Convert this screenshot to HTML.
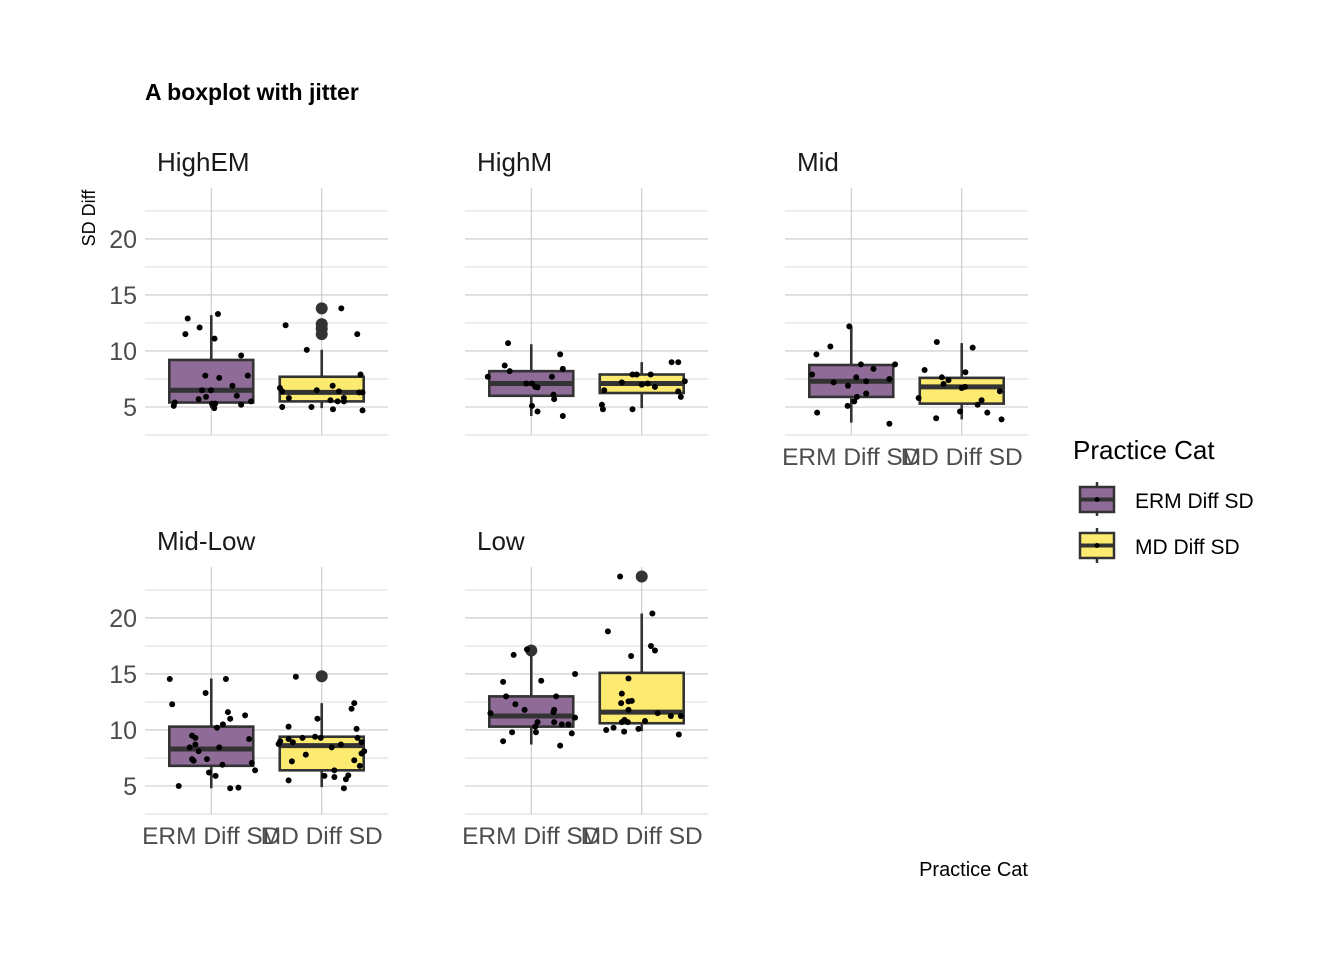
<!DOCTYPE html>
<html><head><meta charset="utf-8">
<style>
body{margin:0;background:#fff;}
svg{display:block;font-family:"Liberation Sans Narrow","Liberation Sans",sans-serif;}
</style></head>
<body>
<svg id="chart" width="1344" height="960" viewBox="0 0 1344 960">
<text x="145" y="100" font-size="23" font-weight="bold" fill="#000">A boxplot with jitter</text>
<text transform="translate(95,218) rotate(-90)" text-anchor="middle" font-size="18" fill="#000">SD Diff</text>
<text x="1028" y="876" text-anchor="end" font-size="20" fill="#000">Practice Cat</text>
<g id="panels"></g>
<g>
<text x="1073" y="459" font-size="26" fill="#000">Practice Cat</text>
<g>
<line x1="1097" y1="482" x2="1097" y2="516" stroke="#333" stroke-width="2.5"/>
<rect x="1080" y="487" width="34" height="25" fill="#8f6b97" stroke="#333" stroke-width="2.5"/>
<line x1="1080" y1="499.5" x2="1114" y2="499.5" stroke="#333" stroke-width="4"/>
<circle cx="1097" cy="499.5" r="2.5" fill="#000"/>
<text x="1135" y="508" font-size="21" fill="#000">ERM Diff SD</text>
</g>
<g>
<line x1="1097" y1="528" x2="1097" y2="563" stroke="#333" stroke-width="2.5"/>
<rect x="1080" y="533" width="34" height="25" fill="#fdea70" stroke="#333" stroke-width="2.5"/>
<line x1="1080" y1="545.5" x2="1114" y2="545.5" stroke="#333" stroke-width="4"/>
<circle cx="1097" cy="545.5" r="2.5" fill="#000"/>
<text x="1135" y="554" font-size="21" fill="#000">MD Diff SD</text>
</g>
</g>
</svg>
<script>
const panelNames = ["HighEM","HighM","Mid","Mid-Low","Low"];
const categories = ["ERM Diff SD","MD Diff SD"];
const yTicks = [5,10,15,20];
const yTickLabels = ["5","10","15","20"];
// box stats per panel: [lower whisker, q1, median, q3, upper whisker]
const ermStats = [[4.9,5.4,6.5,9.2,13.2],[4.2,6.0,7.1,8.2,10.6],[3.6,5.9,7.3,8.75,12.2],[4.8,6.8,8.3,10.3,14.6],[8.7,10.3,11.25,13.0,17.1]];
const mdStats  = [[4.9,5.5,6.3,7.7,10.1],[4.9,6.25,7.1,7.9,9.0],[3.9,5.3,6.8,7.6,10.7],[4.9,6.4,8.6,9.4,12.4],[9.9,10.6,11.6,15.1,20.4]];
const ermOutliers = [[],[],[],[],[17.1]];
const mdOutliers = [[13.8,12.4,12.0,11.5],[],[],[14.8],[23.7]];
// jitter points: [jitter (1/111 category units), value]
const ermPoints = [
[[-23.7,12.9],[6.7,13.3],[-26,11.5],[-11.7,12.1],[3.3,11.1],[30,9.6],[-6,7.8],[8,7.6],[36.7,7.8],[21.3,6.9],[-9.3,6.5],[-0.3,6.5],[25.7,6.0],[-12.7,5.7],[-5.3,5.9],[-36.7,5.4],[-37.7,5.1],[0.7,5.3],[4,5.3],[3,4.9],[30,5.2],[40,5.5]],
[[-23.3,10.7],[29,9.7],[-26.7,8.7],[-21.7,8.2],[31.7,8.4],[-43.7,7.7],[20.7,7.7],[-5,7.1],[0.7,7.1],[4,6.8],[6.3,6.75],[22.3,6.1],[23,5.7],[0.7,5.1],[6.3,4.6],[31.7,4.2]],
[[-2,12.2],[-21,10.4],[-35,9.7],[44,8.8],[9.7,8.8],[22.3,8.4],[-39.3,7.9],[5,7.65],[-17.7,7.2],[15,7.3],[38.3,7.5],[-3.3,6.9],[15,6.2],[5.7,5.9],[3,5.5],[-3.7,5.1],[-34.3,4.5],[38.3,3.5]],
[[-41.7,14.55],[14.7,14.55],[-39.3,12.3],[-5.7,13.3],[16.7,11.6],[19,11.0],[34,11.3],[11.7,10.5],[5.7,10.2],[38,9.2],[-19.3,9.5],[-16,9.3],[-16,8.7],[-21.7,8.45],[-12.7,8.1],[8,8.45],[-19.3,7.4],[-17.7,7.25],[-4.3,7.4],[11.3,6.9],[40.7,7.05],[44,6.4],[-2.3,6.2],[4.3,5.9],[-32.7,5.0],[19,4.8],[27.3,4.85]],
[[-17.7,16.7],[-4.3,17.2],[-28.3,14.3],[10,14.4],[44,15.0],[-25.3,13.0],[25,13.0],[-16,12.3],[-6.7,11.8],[22.3,11.6],[23,11.8],[-41,11.5],[44,11.1],[6.3,10.7],[23,10.7],[30.7,10.5],[37.3,10.5],[4,10.3],[4.7,9.8],[-19.3,9.8],[40.7,9.7],[-28.3,9.0],[29,8.6]]
];
const mdPoints = [
[[19.7,13.8],[-36.3,12.3],[35.7,11.5],[-15,10.1],[39,7.9],[-42,6.7],[-39.7,6.4],[-33,5.8],[-5,6.5],[11,6.9],[17.3,6.4],[8.7,5.6],[16,5.5],[22.3,5.8],[22.3,5.5],[37.7,6.3],[41,6.3],[-39.7,5.0],[-10.3,5.0],[11.3,4.8],[41,4.7]],
[[30,9.0],[36.7,9.0],[-9.3,7.9],[-5,7.9],[9,7.9],[-20,7.2],[0,7.0],[6,7.1],[13.3,6.8],[43.3,7.3],[-37.7,6.5],[36.7,6.4],[39.3,5.9],[-40,5.2],[-39,4.8],[-9.3,4.8]],
[[-25,10.8],[11,10.3],[-37.3,8.3],[3.7,8.1],[-20,7.65],[-13.3,7.4],[-18.3,7.05],[0,6.7],[3.3,6.8],[38.3,6.4],[-43.3,5.8],[20,5.6],[16,5.2],[-1.7,4.6],[25.7,4.5],[-25.7,4.0],[40,3.9]],
[[-26,14.75],[32.7,12.4],[30,11.9],[-4.3,11.0],[-33.3,10.3],[35,10.1],[-33.3,9.2],[-19.3,9.3],[-6.7,9.4],[-1,9.3],[-41.7,9.0],[-43.3,8.75],[-29,8.9],[36,9.3],[40,8.9],[19.3,8.7],[10,8.45],[-16,7.8],[42.7,8.1],[40,7.9],[-30,7.2],[32.7,7.3],[38.3,6.8],[12.7,6.4],[2.7,5.9],[12.7,5.8],[26.7,5.95],[24.3,5.6],[-33.3,5.5],[22.3,4.8]],
[[-21.7,23.7],[10.7,20.4],[-34,18.8],[9.3,17.5],[13.3,17.1],[-10.7,16.6],[-13.3,14.6],[-20,13.25],[-20.7,12.4],[-13.3,12.55],[-10,12.6],[-13.3,11.8],[16,11.5],[29.3,11.25],[39.3,11.25],[-20,10.7],[-17.3,10.9],[-14,10.7],[3.3,10.8],[-35.7,10.0],[-28.3,10.2],[-17.7,9.85],[-3.3,10.1],[37.3,9.6]]
];

const NS="http://www.w3.org/2000/svg";
const root=document.getElementById('panels');
const JITTER_UNIT=1/111;
const panelLeft=[145,465,785,145,465];
const panelTop=[188,188,188,567,567];
const PW=243, PH=247, YMIN=2.5, YMAX=24.55;
const fills=["#8f6b97","#fdea70"];
function mk(tag,attrs,parent){const e=document.createElementNS(NS,tag);for(const k in attrs)e.setAttribute(k,attrs[k]);parent.appendChild(e);return e;}

panelNames.forEach((name,p)=>{
  const L=panelLeft[p], T=panelTop[p];
  const y=v=>T+PH-(v-YMIN)/(YMAX-YMIN)*PH;
  const step=PW/2.2;
  const x=i=>L+step*(0.6+i);
  const g=mk('g',{},root);
  
  
  for(let v=2.5; v<=YMAX; v+=2.5){
    const major=(v%5===0);
    const ln=mk('line',{x1:L,x2:L+PW,y1:y(v),y2:y(v),stroke:major?'#c8c8c8':'#d8d8d8','stroke-width':major?1.1:0.9},g);
    
    
  }
  categories.forEach((c,i)=>{
    const ln=mk('line',{x1:x(i),x2:x(i),y1:T,y2:T+PH,stroke:'#c8c8c8','stroke-width':1.1},g);
    
    
  });
  const st=mk('text',{x:L+12,y:T-17,'font-size':26,fill:'#1a1a1a'},g);
  st.textContent=name;
  
  
  if(p===0||p===3){
    yTicks.forEach((v,k)=>{
      const t=mk('text',{x:L-8,y:y(v)+9,'text-anchor':'end','font-size':25,fill:'#4d4d4d'},g);
      t.textContent=yTickLabels[k];
      
      
    });
  }
  if(p>=2){
    categories.forEach((c,i)=>{
      const t=mk('text',{x:x(i),y:T+PH+30,'text-anchor':'middle','font-size':24.5,fill:'#4d4d4d'},g);
      t.textContent=c;
      
      
    });
  }
  const stats=[ermStats[p],mdStats[p]];
  const outs=[ermOutliers[p],mdOutliers[p]];
  const pts=[ermPoints[p],mdPoints[p]];
  const bw=step*0.76;
  stats.forEach((s,i)=>{
    const bg=mk('g',{},g);
    
    
    mk('line',{x1:x(i),x2:x(i),y1:y(s[0]),y2:y(s[4]),stroke:'#333','stroke-width':2.6},bg);
    mk('rect',{x:x(i)-bw/2,y:y(s[3]),width:bw,height:y(s[1])-y(s[3]),fill:fills[i],stroke:'#333','stroke-width':2.6},bg);
    mk('line',{x1:x(i)-bw/2,x2:x(i)+bw/2,y1:y(s[2]),y2:y(s[2]),stroke:'#333','stroke-width':5},bg);
    outs[i].forEach(v=>{
      const c=mk('circle',{cx:x(i),cy:y(v),r:6,fill:'#333'},bg);
      
      
    });
    pts[i].forEach(([j,v])=>{
      const c=mk('circle',{cx:x(i)+j*JITTER_UNIT*step,cy:y(v),r:3,fill:'#000'},g);
      
      
    });
  });
});
</script>
</body></html>
